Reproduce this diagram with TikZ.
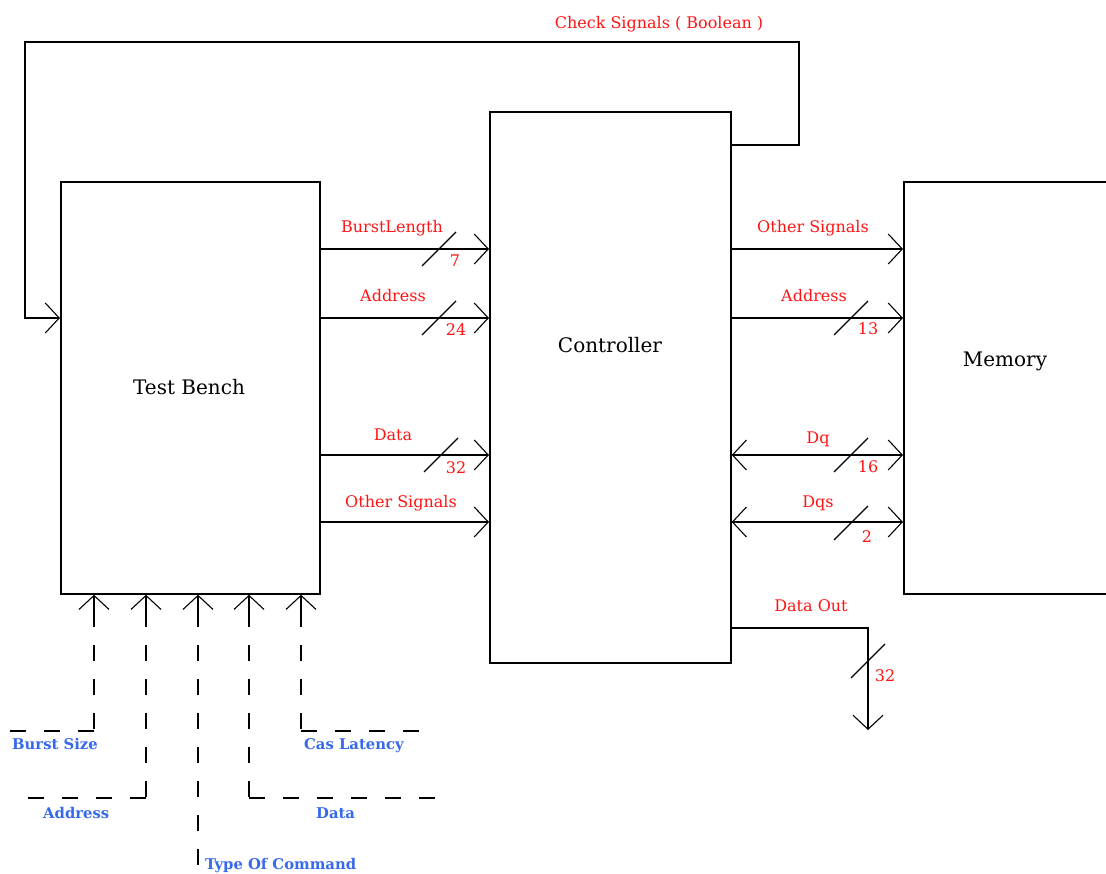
\documentclass[tikz,border=0pt]{standalone}
\usepackage{fontspec}
\setmainfont{DejaVu Serif}
\usetikzlibrary{arrows.meta}
\definecolor{lblred}{RGB}{255,20,20}
\definecolor{lblblue}{RGB}{55,105,235}
\begin{document}
\begin{tikzpicture}[x=1pt,y=-1pt,
  box/.style={draw, line width=1.7pt, inner sep=0pt, anchor=north west},
  title/.style={font=\fontsize{20}{24}\selectfont, inner sep=0pt, anchor=base},
  wire/.style={line width=1.4pt},
  sig/.style={wire, -{Straight Barb[length=14pt,width=30pt,line width=1.1pt]}},
  bisig/.style={wire, {Straight Barb[length=14pt,width=30pt,line width=1.1pt]}-{Straight Barb[length=14pt,width=30pt,line width=1.1pt]}},
  bus/.style={line width=1.1pt},
  lbl/.style={text=lblred, font=\fontsize{16}{18}\selectfont, inner sep=0pt, anchor=base},
  inlbl/.style={text=lblblue, font=\bfseries\fontsize{14.8}{17}\selectfont, inner sep=0pt, anchor=base west},
  vdash/.style={wire, dash pattern=on 16pt off 18pt, dash phase=16pt},
  hdash/.style={wire, dash pattern=on 16pt off 18pt}]
\useasboundingbox (0,0) rectangle (1106,874);
\fill[white] (0,0) rectangle (1106,874);

% blocks
\node[box, minimum width=259pt, minimum height=412pt] (tb) at (60,181) {};
\node[box, minimum width=241pt, minimum height=551pt] (ctrl) at (489,111) {};
\node[box, minimum width=260pt, minimum height=412pt] (mem) at (903,181) {};
\node[title] (tbtxt) at (189,395) {Test Bench};
\node[title] (ctrltxt) at (610,353) {Controller};
\node[title] (memtxt) at (1005,367) {Memory};

% row coordinates
\coordinate (rck) at (0,145);
\coordinate (r1) at (0,249);
\coordinate (r2) at (0,318);
\coordinate (r3) at (0,455);
\coordinate (r4) at (0,522);
\coordinate (rdo) at (0,628);
\coordinate (ckR) at (799,42);
\coordinate (ckL) at (25,42);
\coordinate (doEnd) at (868,730);

% check signals loop
\draw[sig] (ctrl.east |- rck) -| (ckR) -- (ckL) |- (tb.west |- r2);
\node[lbl] (ckl) at (659,29) {Check Signals ( Boolean )};

% test bench -> controller
\draw[sig] (tb.east |- r1) -- (ctrl.west |- r1);
\draw[sig] (tb.east |- r2) -- (ctrl.west |- r2);
\draw[sig] (tb.east |- r3) -- (ctrl.west |- r3);
\draw[sig] (tb.east |- r4) -- (ctrl.west |- r4);
\node[lbl] (l1) at (392,233) {BurstLength};
\node[lbl] (l2) at (393,302) {Address};
\node[lbl] (l3) at (393,440) {Data};
\node[lbl] (l4) at (401,507) {Other Signals};

% controller -> memory
\draw[sig] (ctrl.east |- r1) -- (mem.west |- r1);
\draw[sig] (ctrl.east |- r2) -- (mem.west |- r2);
\draw[bisig] (ctrl.east |- r3) -- (mem.west |- r3);
\draw[bisig] (ctrl.east |- r4) -- (mem.west |- r4);
\node[lbl] (m1) at (813,233) {Other Signals};
\node[lbl] (m2) at (814,302) {Address};
\node[lbl] (m3) at (818,443) {Dq};
\node[lbl] (m4) at (818,507) {Dqs};

% data out
\draw[sig] (ctrl.east |- rdo) -| (doEnd);
\node[lbl] (dol) at (811,611) {Data Out};

% bus slashes
\coordinate (s1) at (439,249);
\coordinate (s2) at (439,318);
\coordinate (s3) at (441,455);
\coordinate (s4) at (851,318);
\coordinate (s5) at (851,455);
\coordinate (s6) at (851,523);
\coordinate (s7) at (868,661);
\foreach \s in {s1,s2,s3,s4,s5,s6,s7}
  \draw[bus] ([shift={(-17,17)}]\s) -- ([shift={(17,-17)}]\s);
\node[lbl] (n1) at (455,267) {7};
\node[lbl] (n2) at (456,336) {24};
\node[lbl] (n3) at (456,473) {32};
\node[lbl] (n4) at (868,335) {13};
\node[lbl] (n5) at (868,472) {16};
\node[lbl] (n6) at (867,542) {2};
\node[lbl] (n7) at (885,681) {32};

% inputs to test bench
\coordinate (in1) at (94,627);
\coordinate (in2) at (146,627);
\coordinate (in3) at (198,627);
\coordinate (in4) at (249,627);
\coordinate (in5) at (301,627);
\coordinate (c1) at (94,731);
\coordinate (c2) at (146,798);
\coordinate (c4) at (249,798);
\coordinate (c5) at (301,731);
\coordinate (e1) at (10,731);
\coordinate (e2) at (27,798);
\coordinate (e3) at (198,876);
\coordinate (e4) at (437,798);
\coordinate (e5) at (420,731);
\foreach \i in {in1,in2,in3,in4,in5}
  \draw[sig] (\i) -- (tb.south -| \i);
\draw[vdash] (in1) -- (c1);
\draw[hdash] (c1) -- (e1);
\draw[vdash] (in2) -- (c2);
\draw[hdash] (c2) -- (e2);
\draw[vdash] (in3) -- (e3);
\draw[vdash] (in4) -- (c4);
\draw[hdash] (c4) -- (e4);
\draw[vdash] (in5) -- (c5);
\draw[hdash] (c5) -- (e5);
\node[inlbl] (b1) at (12,749) {Burst Size};
\node[inlbl] (b2) at (43,818) {Address};
\node[inlbl] (b3) at (205,869) {Type Of Command};
\node[inlbl] (b4) at (316,818) {Data};
\node[inlbl] (b5) at (304,749) {Cas Latency};
\end{tikzpicture}
\end{document}
